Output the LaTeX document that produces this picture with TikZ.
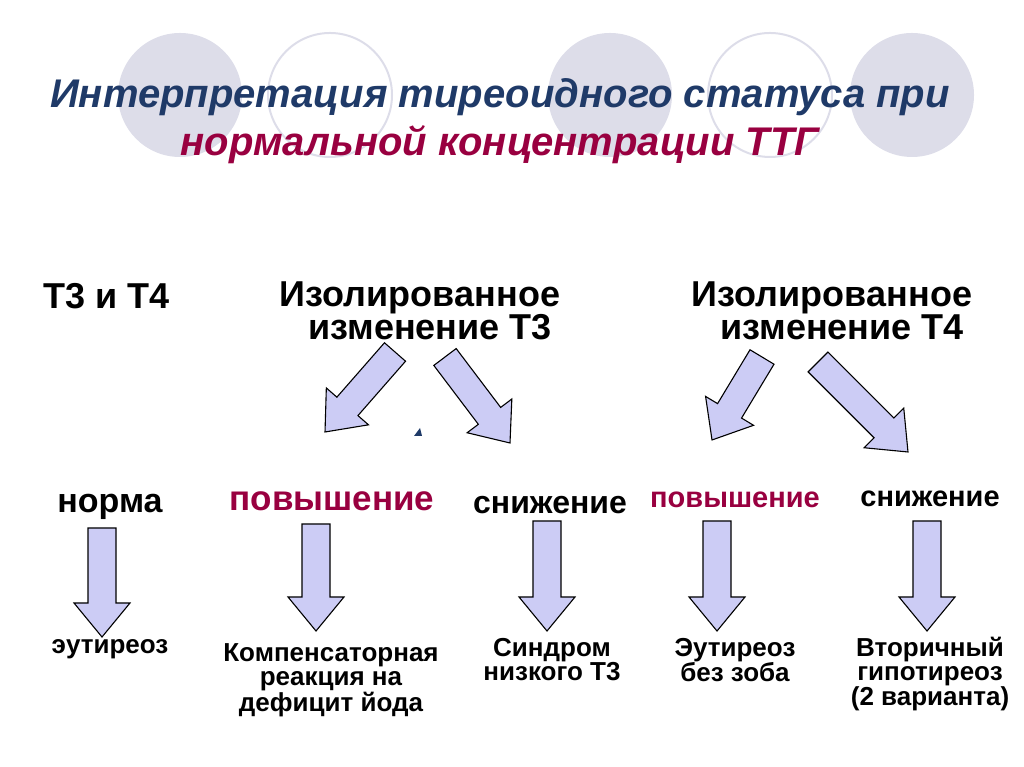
\documentclass[tikz,border=0pt]{standalone}
\usepackage{fontspec}
\setmainfont{Liberation Sans}
\definecolor{navy}{HTML}{1F3A68}
\definecolor{crim}{HTML}{990040}
\definecolor{circ}{HTML}{DDDDE9}
\definecolor{afill}{HTML}{CCCCF5}
\tikzset{ba/.style={draw=black,line width=1.1pt,fill=afill,line join=miter},
 ttl/.style={font=\bfseries\itshape\fontsize{40}{44}\selectfont},
 hdr/.style={font=\bfseries\fontsize{36}{30}\selectfont,align=center},
 lab/.style={font=\bfseries\fontsize{26}{24}\selectfont,align=center}}
\newcommand\barrow[4]{%
\pgfmathsetmacro\ang{atan2(#2-#4,#3-#1)}%
\pgfmathsetmacro\len{veclen(#3-#1,#4-#2)}%
\begin{scope}[shift={(#1,767-#2)},rotate=\ang]
\draw[ba] (0,-14)--(\len-34,-14)--(\len-34,-28)--(\len,0)--(\len-34,28)--(\len-34,14)--(0,14)--cycle;
\end{scope}}
\begin{document}
\begin{tikzpicture}[x=1pt,y=1pt]
\useasboundingbox (0,0) rectangle (1024,767);
\fill[circ] (180,672) circle (62);
\draw[circ,line width=2pt] (330,672) circle (62);
\fill[circ] (610,672) circle (62);
\draw[circ,line width=2pt] (770,672) circle (62);
\fill[circ] (912,672) circle (62);
\node[ttl,text=navy] (t1) at (500,670) {Интерпретация тиреоидного статуса при};
\node[ttl,text=crim] (t2) at (500,622) {нормальной концентрации ТТГ};
\node[hdr,anchor=west] (h1) at (40,471) {Т3 и Т4};
\node[hdr] (h2) at (420,456) {Изолированное\\\phantom{x}изменение Т3};
\node[hdr] (h3) at (832,456) {Изолированное\\\phantom{x}изменение Т4};
\barrow{395}{352}{325}{432}
\barrow{445}{357}{510}{443}
\barrow{762}{357}{712}{440}
\barrow{818}{362}{908}{452}
\fill[navy] (414,331) -- (422,331) -- (420,339) -- cycle;
\node[font=\bfseries\fontsize{34}{30}\selectfont] (n1) at (110,260) {норма};
\node[font=\bfseries\fontsize{35}{30}\selectfont,text=crim] (n2) at (332,266) {повышение};
\node[font=\bfseries\fontsize{32}{30}\selectfont] (n3) at (550,262) {снижение};
\node[font=\bfseries\fontsize{29}{26}\selectfont,text=crim] (n4) at (735,267) {повышение};
\node[font=\bfseries\fontsize{29}{26}\selectfont] (n5) at (930,268) {снижение};
\barrow{102}{528}{102}{637}
\barrow{316}{524}{316}{631}
\barrow{547}{521}{547}{631}
\barrow{717}{521}{717}{631}
\barrow{927}{521}{927}{631}
\node[lab] (b1) at (110,118) {эутиреоз};
\node[lab] (b2) at (331,87) {Компенсаторная\\реакция на\\дефицит йода};
\node[lab] (b3) at (552,107) {Синдром\\низкого Т3};
\node[lab] (b4) at (735,107) {Эутиреоз\\без зоба};
\node[lab] (b5) at (930,93) {Вторичный\\гипотиреоз\\(2 варианта)};
\end{tikzpicture}
\end{document}
